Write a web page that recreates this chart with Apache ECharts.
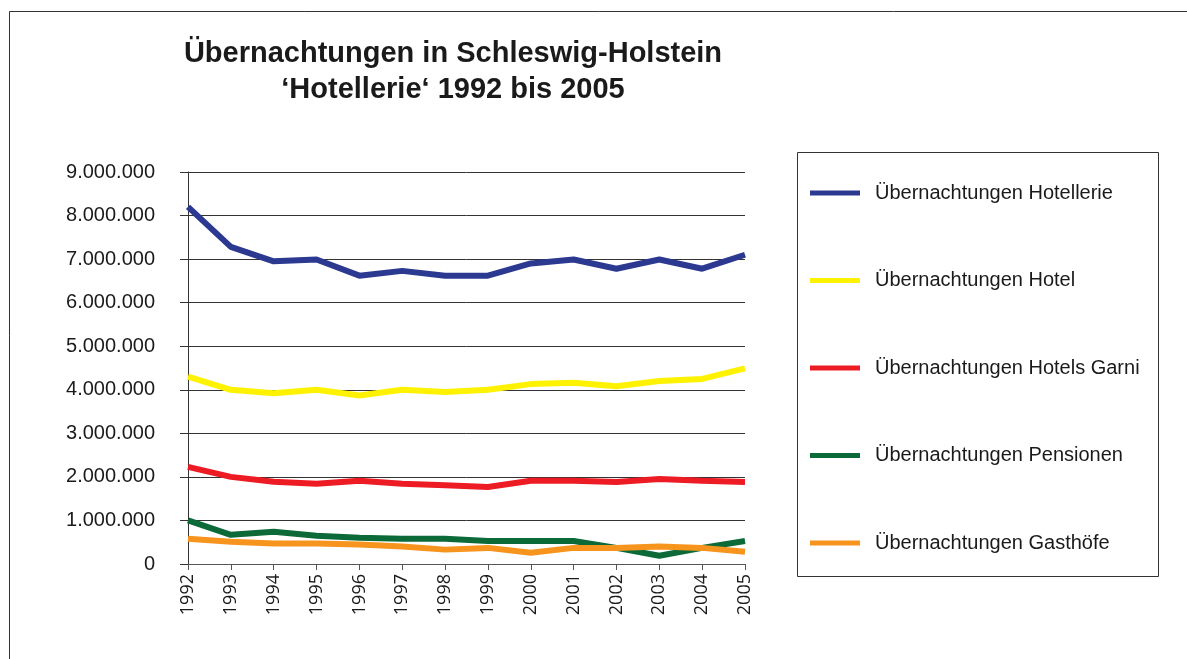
<!DOCTYPE html>
<html>
<head>
<meta charset="utf-8">
<script src="https://cdn.jsdelivr.net/npm/echarts@6/dist/echarts.min.js"></script>
<style>
  html, body { margin: 0; padding: 0; background: #fff; }
  #chart { width: 1187px; height: 659px; }
</style>
</head>
<body>
<div id="chart"></div>
<script>
// Jahre
var years = ['1992', '1993', '1994', '1995', '1996', '1997', '1998', '1999', '2000', '2001', '2002', '2003', '2004', '2005']

// Übernachtungen je Betriebsart
var hotellerie = [8200000, 7280000, 6950000, 6990000, 6620000, 6730000, 6620000, 6620000, 6900000, 6990000, 6780000, 6990000, 6780000, 7100000]
var hotel = [4300000, 4000000, 3920000, 4000000, 3870000, 4000000, 3950000, 4000000, 4130000, 4160000, 4080000, 4200000, 4250000, 4490000]
var hotelsGarni = [2230000, 2000000, 1890000, 1840000, 1910000, 1840000, 1810000, 1770000, 1910000, 1910000, 1880000, 1950000, 1910000, 1880000]
var pensionen = [1000000, 670000, 740000, 650000, 600000, 580000, 580000, 530000, 530000, 530000, 370000, 190000, 370000, 530000]
var gasthoefe = [580000, 510000, 470000, 470000, 450000, 400000, 330000, 370000, 260000, 370000, 370000, 400000, 370000, 280000]

var seriesNames = ['Übernachtungen Hotellerie', 'Übernachtungen Hotel', 'Übernachtungen Hotels Garni', 'Übernachtungen Pensionen', 'Übernachtungen Gasthöfe']
var colors = ['#2b3990', '#fff200', '#ed1c24', '#0b6a38', '#f7941d']

var chart = echarts.init(document.getElementById('chart'))

function fmt(v) {
  return String(v).replace(/\B(?=(\d{3})+(?!\d))/g, '.')
}

function line(name, data) {
  return {
    name: name,
    type: 'line',
    data: data,
    symbol: 'none',
    lineStyle: { width: 6 },
    z: 3
  }
}

chart.setOption({
  animation: false,
  color: colors,
  textStyle: { fontFamily: 'Liberation Sans' },
  title: {
    text: 'Übernachtungen in Schleswig-Holstein\n‘Hotellerie‘ 1992 bis 2005',
    left: 448,
    top: 31,
    textAlign: 'center',
    textStyle: {
      fontFamily: 'Liberation Sans',
      fontWeight: 'bold',
      fontSize: 29,
      lineHeight: 36,
      color: '#1a1a1a'
    }
  },
  legend: {
    orient: 'vertical',
    left: 805,
    top: 178,
    itemWidth: 50,
    itemHeight: 5,
    itemGap: 67.5,
    icon: 'rect',
    data: seriesNames,
    textStyle: {
      fontFamily: 'Liberation Sans',
      fontSize: 20,
      lineHeight: 20,
      color: '#1a1a1a',
      padding: [0, 0, 0, 10]
    }
  },
  grid: {
    left: 188,
    right: 442,
    top: 172,
    bottom: 95
  },
  xAxis: {
    type: 'category',
    boundaryGap: false,
    data: years,
    axisLine: { lineStyle: { color: '#555', width: 1 } },
    axisTick: { show: true, length: 6, lineStyle: { color: '#555' } },
    axisLabel: {
      rotate: 90,
      margin: 10,
      fontFamily: 'Open Sans',
      fontSize: 18,
      color: '#1a1a1a'
    }
  },
  yAxis: {
    type: 'value',
    min: 0,
    max: 9000000,
    interval: 1000000,
    axisLine: { show: true, lineStyle: { color: '#333', width: 1 } },
    axisTick: { show: true, length: 8, lineStyle: { color: '#333' } },
    axisLabel: {
      margin: 33,
      fontSize: 20,
      color: '#1a1a1a',
      formatter: fmt
    },
    splitLine: { lineStyle: { color: '#333', width: 1 } }
  },
  graphic: [
    {
      type: 'rect',
      shape: { x: 9.5, y: 11.5, width: 1300, height: 700 },
      style: { fill: 'none', stroke: '#333', lineWidth: 1 },
      silent: true
    },
    {
      type: 'rect',
      shape: { x: 797.5, y: 152.5, width: 361, height: 424 },
      style: { fill: 'none', stroke: '#333', lineWidth: 1 },
      silent: true
    }
  ],
  series: [
    line(seriesNames[0], hotellerie),
    line(seriesNames[1], hotel),
    line(seriesNames[2], hotelsGarni),
    line(seriesNames[3], pensionen),
    line(seriesNames[4], gasthoefe)
  ]
})
</script>
</body>
</html>
